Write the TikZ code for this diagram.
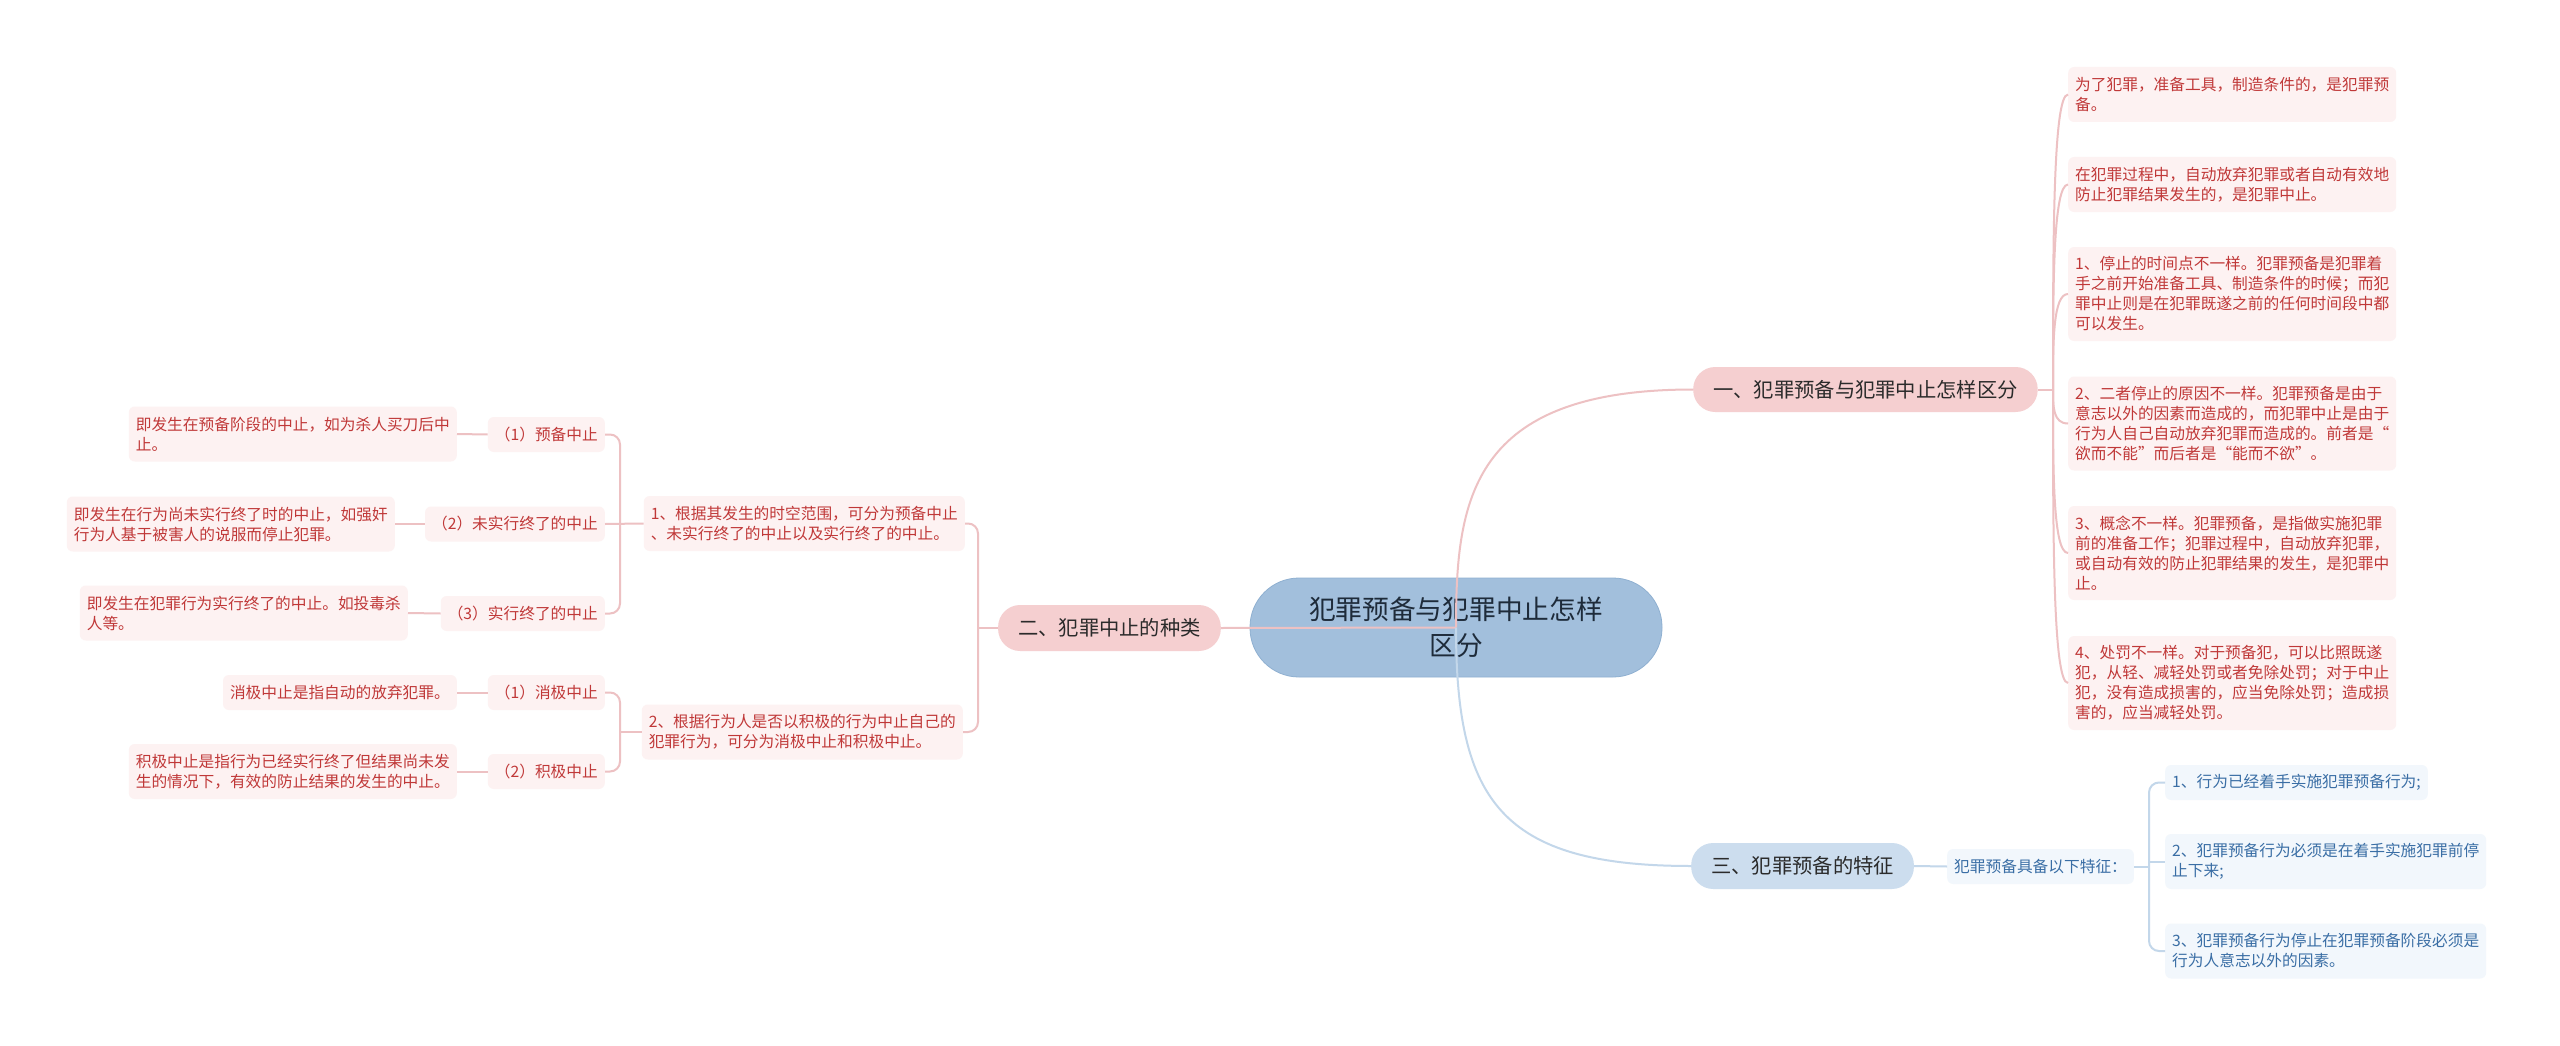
\documentclass[tikz,border=0pt]{standalone}
\usepackage{fontspec}
\setmainfont{Noto Sans CJK SC}
\usetikzlibrary{calc}
\definecolor{pinkline}{HTML}{EDC1C3}
\definecolor{blueline}{HTML}{C3D7EA}
\definecolor{brpink}{HTML}{F5CFD0}
\definecolor{brblue}{HTML}{CCDDEE}
\definecolor{cfill}{HTML}{A2BFDC}
\definecolor{cdraw}{HTML}{8FB0D1}
\definecolor{leafpink}{HTML}{FDF2F2}
\definecolor{leafblue}{HTML}{F2F7FC}
\definecolor{leafred}{HTML}{C03838}
\definecolor{leafbluetext}{HTML}{3A6EA5}
\definecolor{darktext}{HTML}{2B2B2B}
\definecolor{ctext}{HTML}{1E2B3A}
\begin{document}
\begin{tikzpicture}[x=1pt,y=-1pt,
  leafr/.style={fill=leafpink, text=leafred, rounded corners=6pt, inner xsep=7pt, inner ysep=4pt, align=left, font=\fontsize{15.7pt}{20pt}\selectfont},
  leafb/.style={fill=leafblue, text=leafbluetext, rounded corners=6pt, inner xsep=7pt, inner ysep=4pt, align=left, font=\fontsize{15.7pt}{20pt}\selectfont},
  hone/.style={minimum height=35pt},
  htwo/.style={minimum height=55pt},
  hfour/.style={minimum height=94pt},
  brp/.style={fill=brpink, text=darktext, rounded corners=22pt, minimum height=45pt, inner xsep=20pt, font=\fontsize{20.3pt}{24pt}\selectfont},
  brb/.style={fill=brblue, text=darktext, rounded corners=22pt, minimum height=46pt, inner xsep=20pt, font=\fontsize{20.3pt}{24pt}\selectfont},
  pl/.style={draw=pinkline, line width=2pt},
  bl/.style={draw=blueline, line width=2pt},
]
\useasboundingbox[fill=white] (0,0) rectangle (2560,1046);

% central
\node[fill=cfill, draw=cdraw, line width=0.8pt, text=ctext, rounded corners=49pt, minimum width=412pt, minimum height=99pt, align=center, font=\fontsize{26.7pt}{36pt}\selectfont] (C) at (1456,627.5) {犯罪预备与犯罪中止怎样\\区分};

% branches
\node[brp, anchor=west] (B1) at (1693,389.5) {一、犯罪预备与犯罪中止怎样区分};
\node[brp, anchor=east, minimum height=46pt] (B2) at (1221,628) {二、犯罪中止的种类};
\node[brb, anchor=west] (B3) at (1691,866) {三、犯罪预备的特征};

% right leaves of branch 1
\node[leafr, htwo, anchor=west] (R1) at (2068,94.5) {为了犯罪，准备工具，制造条件的，是犯罪预\\备。};
\node[leafr, htwo, anchor=west] (R2) at (2068,184.5) {在犯罪过程中，自动放弃犯罪或者自动有效地\\防止犯罪结果发生的，是犯罪中止。};
\node[leafr, hfour, anchor=west] (R3) at (2068,294) {1、停止的时间点不一样。犯罪预备是犯罪着\\手之前开始准备工具、制造条件的时候；而犯\\罪中止则是在犯罪既遂之前的任何时间段中都\\可以发生。};
\node[leafr, hfour, anchor=west] (R4) at (2068,423.5) {2、二者停止的原因不一样。犯罪预备是由于\\意志以外的因素而造成的，而犯罪中止是由于\\行为人自己自动放弃犯罪而造成的。前者是“\\欲而不能”而后者是“能而不欲”。};
\node[leafr, hfour, anchor=west] (R5) at (2068,553) {3、概念不一样。犯罪预备，是指做实施犯罪\\前的准备工作；犯罪过程中，自动放弃犯罪，\\或自动有效的防止犯罪结果的发生，是犯罪中\\止。};
\node[leafr, hfour, anchor=west] (R6) at (2068,683) {4、处罚不一样。对于预备犯，可以比照既遂\\犯，从轻、减轻处罚或者免除处罚；对于中止\\犯，没有造成损害的，应当免除处罚；造成损\\害的，应当减轻处罚。};

% branch 3 children
\node[leafb, hone, anchor=west] (S) at (1947,866.5) {犯罪预备具备以下特征：};
\node[leafb, hone, anchor=west] (L1) at (2165,782.5) {1、行为已经着手实施犯罪预备行为;};
\node[leafb, htwo, anchor=west] (L2) at (2165,861.5) {2、犯罪预备行为必须是在着手实施犯罪前停\\止下来;};
\node[leafb, htwo, anchor=west] (L3) at (2165,951) {3、犯罪预备行为停止在犯罪预备阶段必须是\\行为人意志以外的因素。};

% branch 2 children
\node[leafr, htwo, anchor=east] (A1) at (965,523.5) {1、根据其发生的时空范围，可分为预备中止\\、未实行终了的中止以及实行终了的中止。};
\node[leafr, htwo, anchor=east] (A2) at (963,732) {2、根据行为人是否以积极的行为中止自己的\\犯罪行为，可分为消极中止和积极中止。};

\node[leafr, hone, anchor=east] (G1) at (605,434.5) {（1）预备中止};
\node[leafr, hone, anchor=east] (G2) at (605,524) {（2）未实行终了的中止};
\node[leafr, hone, anchor=east] (G3) at (605,613.5) {（3）实行终了的中止};
\node[leafr, hone, anchor=east] (G4) at (605,692.5) {（1）消极中止};
\node[leafr, hone, anchor=east] (G5) at (605,771.5) {（2）积极中止};

\node[leafr, htwo, anchor=east] (LL1) at (457,434) {即发生在预备阶段的中止，如为杀人买刀后中\\止。};
\node[leafr, htwo, anchor=east] (LL2) at (395,524) {即发生在行为尚未实行终了时的中止，如强奸\\行为人基于被害人的说服而停止犯罪。};
\node[leafr, htwo, anchor=east] (LL3) at (408,613) {即发生在犯罪行为实行终了的中止。如投毒杀\\人等。};
\node[leafr, hone, anchor=east] (LL4) at (457,692.5) {消极中止是指自动的放弃犯罪。};
\node[leafr, htwo, anchor=east] (LL5) at (457,771.5) {积极中止是指行为已经实行终了但结果尚未发\\生的情况下，有效的防止结果的发生的中止。};

% junction coordinates
\coordinate (b1j) at (2053,389.5);
\coordinate (b2j) at (978,628);
\coordinate (a1j) at (620,523.5);
\coordinate (a2j) at (620,732);
\coordinate (sj) at (2149,866.5);

% central to branches
\draw[pl] (C.center) -- (B2.east);
\draw[pl] (C.center) .. controls (1456,500) and (1470,389.5) .. (B1.west);
\draw[bl] (C.center) .. controls (1456,800) and (1500,866) .. (B3.west);

% branch 1 fan
\draw[pl] (B1.east) -- (b1j);
\foreach \n in {R1,R2,R3,R4,R5,R6}{
  \draw[pl] (b1j) .. controls ($(b1j)!0.5!(b1j |- \n.west)$) and (b1j |- \n.west) .. (\n.west);
}

% branch 3
\draw[bl] (B3.east) -- (S.west);
\draw[bl] (S.east) -- (sj);
\draw[bl, rounded corners=10pt] (L1.west) -| (sj) |- (L3.west);
\draw[bl] (sj) |- (L2.west);

% branch 2
\draw[pl] (B2.west) -- (b2j);
\draw[pl, rounded corners=10pt] (A1.east) -| (b2j) |- (A2.east);
\draw[pl] (A1.west) -- (G2.east);
\draw[pl, rounded corners=10pt] (G1.east) -| (a1j) |- (G3.east);
\draw[pl] (A2.west) -- (a2j);
\draw[pl, rounded corners=10pt] (G4.east) -| (a2j) |- (G5.east);
\draw[pl] (G1.west) -- (LL1.east);
\draw[pl] (G2.west) -- (LL2.east);
\draw[pl] (G3.west) -- (LL3.east);
\draw[pl] (G4.west) -- (LL4.east);
\draw[pl] (G5.west) -- (LL5.east);
\end{tikzpicture}
\end{document}
